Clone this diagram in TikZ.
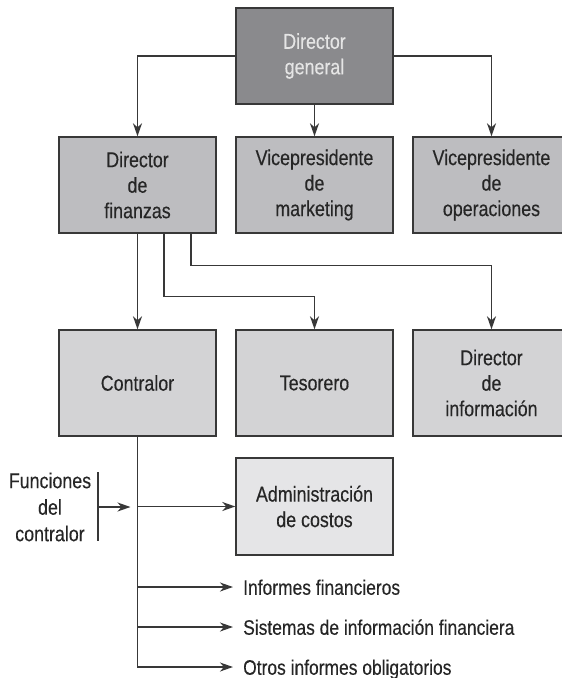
\documentclass[tikz,border=0pt]{standalone}
\usepackage{fontspec}
\setmainfont{Liberation Sans}[FakeStretch=0.83, FakeBold=0.3]
\usetikzlibrary{arrows.meta}
\definecolor{boxtop}{HTML}{8A8A8D}
\definecolor{boxmid}{HTML}{BDBDC0}
\definecolor{boxlow}{HTML}{D3D3D5}
\definecolor{boxpale}{HTML}{E5E5E7}
\definecolor{ink}{HTML}{262626}
\definecolor{rule}{HTML}{383838}
\tikzset{
  orgbox/.style={draw=rule, line width=1.4pt, minimum width=157pt, inner sep=0pt,
    align=center, text=ink, font=\fontsize{21.5}{25.5}\selectfont},
  link/.style={draw=rule, line width=1.4pt},
  arr/.style={link, -{Stealth[length=13pt,width=9pt,inset=4pt]}},
  lbl/.style={inner sep=0pt, text=ink, font=\fontsize{21}{25.5}\selectfont,
    text height=15.5pt, text depth=0pt},
}
\begin{document}
\begin{tikzpicture}[x=1pt, y={(0pt,-1pt)}]
\useasboundingbox (0,0) rectangle (562,678);

% top level
\node[orgbox, fill=boxtop, minimum height=96pt, text=white!90!black] (dg) at (314.5,56) {Director\\general};

% second level
\node[orgbox, fill=boxmid, minimum height=96pt] (df) at (137.5,185) {Director\\de\\finanzas};
\node[orgbox, fill=boxmid, minimum height=96pt] (vm) at (314.5,185) {Vicepresidente\\de\\marketing};
\node[orgbox, fill=boxmid, minimum height=96pt] (vo) at (491.5,185) {Vicepresidente\\de\\operaciones};

% third level
\node[orgbox, fill=boxlow, minimum height=106pt] (con) at (137.5,383) {Contralor};
\node[orgbox, fill=boxlow, minimum height=106pt] (tes) at (314.5,383) {Tesorero};
\node[orgbox, fill=boxlow, minimum height=106pt] (dinf) at (491.5,383) {Director\\de\\información};

% controller functions
\node[orgbox, fill=boxpale, minimum height=97pt] (adm) at (314.5,506.5) {Administración\\de costos};
\node[lbl, anchor=west] (t1) at (243,587) {Informes financieros};
\node[lbl, anchor=west] (t2) at (243,627) {Sistemas de información financiera};
\node[lbl, anchor=west] (t3) at (243,667) {Otros informes obligatorios};
\node[align=center, inner sep=0pt, text=ink, font=\fontsize{21.5}{26.5}\selectfont] (fc) at (50,507) {Funciones\\del\\contralor};

\coordinate (brt) at (98,472);
\coordinate (brm) at (98,507);
\coordinate (brb) at (98,541);

% connectors from the general director
\draw[arr] (dg.west) -| (df.north);
\draw[arr] (dg.south) -- (vm.north);
\draw[arr] (dg.east) -| (vo.north);

% connectors from the finance director
\draw[arr] (df.south) -- (con.north);
\draw[arr] ([xshift=26.5pt]df.south) |- ([yshift=33pt]tes.north) -- (tes.north);
\draw[arr] ([xshift=53.5pt]df.south) |- ([yshift=64pt]dinf.north) -- (dinf.north);

% controller branches
\draw[arr] (con.south) |- ([xshift=-10pt]t3.west);
\draw[arr] (con.south |- adm.west) -- (adm.west);
\draw[arr] (con.south |- t1.west) -- ([xshift=-10pt]t1.west);
\draw[arr] (con.south |- t2.west) -- ([xshift=-10pt]t2.west);

% bracket for the function label
\draw[link] (brt) -- (brb);
\draw[arr] (brm) -- ([xshift=-7pt]con.south |- brm);
\end{tikzpicture}
\end{document}
